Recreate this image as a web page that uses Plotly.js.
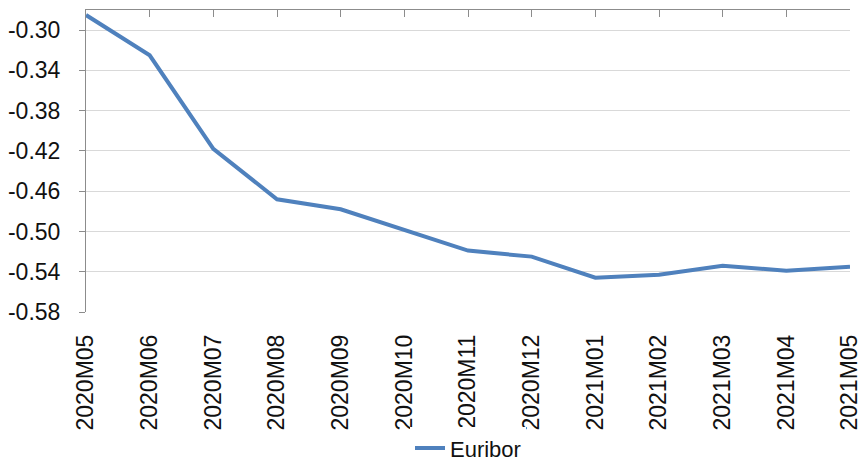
<!DOCTYPE html>
<html>
<head>
<meta charset="utf-8">
<script src="https://cdn.plot.ly/plotly-3.0.1.min.js"></script>
<style>html,body{margin:0;padding:0;background:#fff;}#chart{width:862px;height:462px;}</style>
</head>
<body>
<div id="chart"></div>
<script>
const months = ["2020M05","2020M06","2020M07","2020M08","2020M09","2020M10","2020M11","2020M12","2021M01","2021M02","2021M03","2021M04","2021M05"];
const euribor = [-0.285,-0.325,-0.418,-0.468,-0.478,-0.498,-0.519,-0.525,-0.546,-0.543,-0.534,-0.539,-0.535];
const yTickVals = [-0.58,-0.54,-0.50,-0.46,-0.42,-0.38,-0.34,-0.30];
const yTickText = yTickVals.map(v => v.toFixed(2));
const seriesName = "Euribor";

const traces = [
  {
    x: months, y: euribor, type: "scatter", mode: "lines", name: seriesName,
    line: {color: "#4f81bd", width: 4}, xaxis: "x", yaxis: "y", hoverinfo: "x+y"
  },
  {
    x: [], y: [], type: "scatter", mode: "lines", xaxis: "x2", yaxis: "y",
    showlegend: false, hoverinfo: "skip"
  }
];

const layout = {
  width: 862, height: 462,
  margin: {l: 86, r: 12, t: 10, b: 150},
  paper_bgcolor: "#fff", plot_bgcolor: "#fff",
  font: {family: "Liberation Sans, Arial, sans-serif", color: "#111"},
  showlegend: true,
  legend: {orientation: "h", x: 0.5, xref: "paper", xanchor: "center",
           y: 0.03, yref: "container", yanchor: "middle",
           font: {size: 22, color: "#111"}},
  xaxis: {
    type: "category", range: [0, 12], showline: false, showgrid: false, zeroline: false,
    ticks: "", tickangle: -90, tickfont: {size: 23, color: "#111"}, ticklabelstandoff: 17,
    automargin: false
  },
  xaxis2: {
    overlaying: "x", side: "top", range: [0, 12], tickmode: "linear", tick0: 0, dtick: 1,
    showticklabels: false, ticks: "inside", ticklen: 7, tickcolor: "#8c8c8c", tickwidth: 1,
    showline: true, linecolor: "#8c8c8c", linewidth: 1, showgrid: false, zeroline: false,
    automargin: false
  },
  yaxis: {
    range: [-0.58, -0.28], tickmode: "array", tickvals: yTickVals, ticktext: yTickText,
    showline: true, linecolor: "#8c8c8c", linewidth: 1, ticks: "outside", ticklen: 6,
    tickcolor: "#8c8c8c", showgrid: true, gridcolor: "#d9d9d9", gridwidth: 1, zeroline: false,
    tickfont: {size: 23, color: "#111"}, ticklabelstandoff: 14, automargin: false
  }
};

Plotly.newPlot("chart", traces, layout, {displayModeBar: false, staticPlot: true});
</script>
</body>
</html>
